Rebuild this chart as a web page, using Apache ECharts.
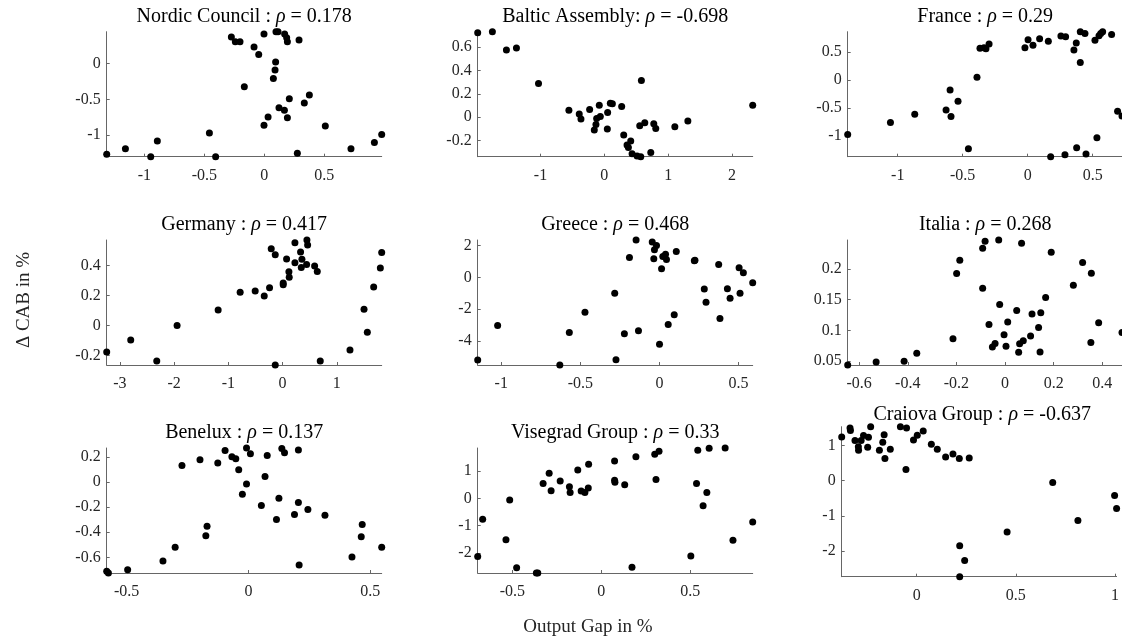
<!DOCTYPE html>
<html><head><meta charset="utf-8">
<script src="https://cdn.jsdelivr.net/npm/echarts@6/dist/echarts.min.js"></script>
<style>html,body{margin:0;padding:0;background:#fff}#c{width:1122px;height:639px}</style>
</head><body><div id="c"></div>
<script>
// ---------- data: [output gap %, delta CAB %] ----------
const nordic = [[-1.314,-1.271],[-1.158,-1.192],[-0.947,-1.304],[-0.892,-1.084],[-0.458,-0.972],[-0.406,-1.304],[-0.275,0.374],[-0.242,0.308],[-0.203,0.308],[-0.167,-0.322],[-0.086,0.234],[-0.047,0.131],[-0.003,0.416],[-0.003,-0.864],[0.031,-0.748],[0.075,-0.206],[0.089,-0.089],[0.094,0.023],[0.097,0.449],[0.114,0.449],[0.122,-0.617],[0.167,-0.654],[0.169,0.416],[0.186,0.364],[0.192,0.308],[0.192,-0.757],[0.208,-0.491],[0.289,0.332],[0.333,-0.551],[0.375,-0.439],[0.508,-0.874],[0.722,-1.192],[0.275,-1.257],[0.917,-1.106],[0.978,-0.994]];
const baltic = [[-1.984,0.726],[-1.754,0.734],[-1.534,0.577],[-1.377,0.594],[-1.031,0.289],[-0.555,0.060],[-0.393,0.026],[-0.366,-0.017],[-0.230,0.066],[-0.157,-0.111],[-0.131,-0.063],[-0.120,-0.011],[-0.079,0.103],[-0.063,0.006],[0.047,-0.103],[0.052,0.040],[0.094,0.120],[0.126,0.114],[0.272,0.091],[0.304,-0.154],[0.356,-0.240],[0.377,-0.260],[0.414,-0.206],[0.435,-0.314],[0.513,-0.334],[0.555,-0.074],[0.571,-0.340],[0.581,0.314],[0.634,-0.049],[0.728,-0.303],[0.775,-0.057],[0.806,-0.097],[1.105,-0.083],[1.309,-0.034],[2.325,0.103]];
const france = [[-1.385,-0.98],[-1.056,-0.765],[-0.869,-0.617],[-0.628,-0.539],[-0.597,-0.184],[-0.590,-0.658],[-0.536,-0.385],[-0.456,-1.233],[-0.390,0.047],[-0.367,0.563],[-0.336,0.575],[-0.321,0.557],[-0.297,0.640],[-0.021,0.575],[0.003,0.717],[0.041,0.616],[0.092,0.735],[0.159,0.688],[0.177,-1.375],[0.256,0.782],[0.292,0.771],[0.287,-1.340],[0.356,0.533],[0.374,0.658],[0.377,-1.215],[0.405,0.860],[0.405,0.308],[0.441,0.830],[0.449,-1.328],[0.518,0.705],[0.533,-1.037],[0.549,0.788],[0.562,0.830],[0.577,0.860],[0.646,0.812],[0.692,-0.563],[0.726,-0.646]];
const germany = [[-3.243,-0.177],[-2.800,-0.097],[-2.320,-0.236],[-1.945,0.000],[-1.188,0.104],[-0.782,0.221],[-0.505,0.230],[-0.338,0.196],[-0.240,0.252],[-0.209,0.512],[-0.135,0.472],[-0.135,-0.263],[0.012,0.283],[0.012,0.272],[0.074,0.444],[0.117,0.358],[0.123,0.322],[0.228,0.552],[0.228,0.419],[0.332,0.490],[0.345,0.386],[0.357,0.442],[0.449,0.570],[0.462,0.536],[0.443,0.406],[0.591,0.397],[0.640,0.360],[0.695,-0.236],[1.243,-0.163],[1.502,0.108],[1.563,-0.044],[1.680,0.256],[1.803,0.384],[1.828,0.486]];
const greece = [[-1.149,-5.19],[-1.023,-3.02],[-0.630,-5.50],[-0.570,-3.46],[-0.471,-2.19],[-0.283,-1.00],[-0.275,-5.17],[-0.222,-3.54],[-0.190,1.25],[-0.148,2.35],[-0.133,-3.35],[-0.046,2.23],[-0.032,1.73],[-0.036,1.17],[-0.019,2.00],[0.000,-4.19],[0.013,0.54],[0.021,1.31],[0.038,1.46],[0.044,1.13],[0.055,-2.96],[0.093,-2.35],[0.106,1.63],[0.220,1.04],[0.224,1.08],[0.283,-0.73],[0.294,-1.56],[0.374,0.81],[0.382,-2.58],[0.429,-0.71],[0.446,-1.31],[0.503,0.60],[0.509,-1.00],[0.530,0.29],[0.589,-0.33]];
const italia = [[-0.647,0.0435],[-0.530,0.0484],[-0.415,0.0495],[-0.363,0.0625],[-0.214,0.0863],[-0.199,0.1924],[-0.186,0.2141],[-0.092,0.2336],[-0.082,0.2449],[-0.092,0.1686],[-0.066,0.1096],[-0.052,0.0728],[-0.041,0.0787],[-0.026,0.2471],[-0.022,0.1421],[-0.004,0.0928],[0.004,0.0739],[0.011,0.1134],[0.048,0.1323],[0.056,0.0641],[0.060,0.0782],[0.068,0.2417],[0.075,0.0831],[0.105,0.0906],[0.111,0.1264],[0.138,0.1047],[0.144,0.0646],[0.147,0.1285],[0.167,0.1534],[0.190,0.2271],[0.281,0.1735],[0.319,0.2103],[0.355,0.1930],[0.353,0.0803],[0.385,0.1123],[0.481,0.0966]];
const benelux = [[-0.582,-0.712],[-0.575,-0.725],[-0.496,-0.699],[-0.351,-0.629],[-0.301,-0.520],[-0.273,0.133],[-0.199,0.179],[-0.175,-0.427],[-0.170,-0.352],[-0.126,0.152],[-0.096,0.253],[-0.068,0.203],[-0.052,0.187],[-0.040,0.099],[-0.025,-0.096],[-0.008,0.272],[-0.008,-0.016],[0.008,0.227],[0.053,-0.187],[0.068,0.045],[0.077,0.213],[0.115,-0.299],[0.125,-0.128],[0.137,0.269],[0.148,0.235],[0.189,-0.259],[0.205,0.256],[0.205,-0.163],[0.208,-0.661],[0.244,-0.219],[0.314,-0.264],[0.425,-0.597],[0.463,-0.435],[0.467,-0.339],[0.547,-0.520]];
const visegrad = [[-0.695,-2.13],[-0.667,-0.77],[-0.536,-1.52],[-0.515,-0.06],[-0.476,-2.55],[-0.365,-2.74],[-0.357,-2.74],[-0.327,0.55],[-0.293,0.92],[-0.282,0.28],[-0.231,0.64],[-0.179,0.43],[-0.175,0.22],[-0.132,1.04],[-0.113,0.27],[-0.092,0.22],[-0.073,0.38],[-0.071,1.25],[0.075,1.37],[0.075,0.67],[0.077,0.59],[0.132,0.50],[0.173,-2.53],[0.195,1.53],[0.301,1.62],[0.308,0.69],[0.325,1.73],[0.504,-2.12],[0.536,0.55],[0.543,1.77],[0.573,-0.27],[0.594,0.22],[0.607,1.84],[0.697,1.85],[0.741,-1.54],[0.852,-0.87]];
const craiova = [[-0.378,1.24],[-0.336,1.49],[-0.334,1.42],[-0.311,1.14],[-0.294,0.96],[-0.293,0.86],[-0.280,1.14],[-0.268,1.28],[-0.247,0.95],[-0.243,1.23],[-0.232,1.53],[-0.188,0.86],[-0.171,1.09],[-0.164,1.30],[-0.160,0.63],[-0.133,0.89],[-0.082,1.53],[-0.054,0.32],[-0.051,1.49],[-0.016,1.15],[0.003,1.29],[0.033,1.41],[0.074,1.03],[0.104,0.89],[0.146,0.67],[0.183,0.76],[0.215,0.63],[0.217,-1.84],[0.217,-2.72],[0.242,-2.26],[0.265,0.64],[0.456,-1.45],[0.686,-0.05],[0.813,-1.13],[0.998,-0.42],[1.008,-0.79]];

const panelData = [nordic, baltic, france, germany, greece, italia, benelux, visegrad, craiova];
const panelNames = ['Nordic Council :', 'Baltic Assembly:', 'France :', 'Germany :', 'Greece :', 'Italia :', 'Benelux :', 'Visegrad Group :', 'Craiova Group :'];
const rhoValues = ['0.178', '-0.698', '0.29', '0.417', '0.468', '0.268', '0.137', '0.33', '-0.637'];

// tick labels
const xTicks = [
  [-1, -0.5, 0, 0.5],
  [-1, 0, 1, 2],
  [-1, -0.5, 0, 0.5],
  [-3, -2, -1, 0, 1],
  [-1, -0.5, 0, 0.5],
  [-0.6, -0.4, -0.2, 0, 0.2, 0.4],
  [-0.5, 0, 0.5],
  [-0.5, 0, 0.5],
  [0, 0.5, 1]
];
const yTicks = [
  [-1, -0.5, 0],
  [-0.2, 0, 0.2, 0.4, 0.6],
  [-1, -0.5, 0, 0.5],
  [-0.2, 0, 0.2, 0.4],
  [-4, -2, 0, 2],
  [0.05, 0.1, 0.15, 0.2],
  [-0.6, -0.4, -0.2, 0, 0.2],
  [-2, -1, 0, 1],
  [-2, -1, 0, 1]
];
const xAxisTitle = 'Output Gap in %';
const yAxisTitle = 'Δ CAB in %';

// ---------- layout ----------
const FONT = '"Liberation Serif", "Times New Roman", serif';
const TXT = '#262626';
const AX = '#666666';
const colLeft = [106.7, 477.7, 847.7];
const rowTop = [31.7, 240, 448];
const W = 275, H = 125;

const grids = [], xAxes = [], yAxes = [], series = [], titles = [];
panelData.forEach((d, i) => {
  const r = Math.floor(i / 3), c = i % 3;
  let g = { left: colLeft[c], top: rowTop[r], width: W, height: H };
  let titleTop = rowTop[r] - 25;
  if (i === 8) { g = { left: 841.7, top: 426.7, width: 281, height: 150 }; titleTop = 405; }
  grids.push(g);
  const xs = d.map(p => p[0]), ys = d.map(p => p[1]);
  const axBase = {
    type: 'value', gridIndex: i, scale: true,
    axisLine: { show: true, onZero: false, lineStyle: { color: AX, width: 1 } },
    axisTick: { show: true, inside: true, length: 3, lineStyle: { color: AX } },
    splitLine: { show: false },
    axisLabel: { color: TXT, fontFamily: FONT, fontSize: 16, showMinLabel: true, showMaxLabel: true }
  };
  xAxes.push(Object.assign({}, axBase, {
    min: Math.min(...xs), max: Math.max(...xs),
    axisTick: Object.assign({}, axBase.axisTick, { customValues: xTicks[i] }),
    axisLabel: Object.assign({}, axBase.axisLabel, { customValues: xTicks[i], margin: 11 })
  }));
  yAxes.push(Object.assign({}, axBase, {
    min: Math.min(...ys), max: Math.max(...ys),
    axisTick: Object.assign({}, axBase.axisTick, { customValues: yTicks[i] }),
    axisLabel: Object.assign({}, axBase.axisLabel, { customValues: yTicks[i], margin: 6 })
  }));
  series.push({
    type: 'scatter', xAxisIndex: i, yAxisIndex: i, data: d,
    symbol: 'circle', symbolSize: 7, itemStyle: { color: '#000', opacity: 1 }, silent: true
  });
  titles.push({
    text: '{a|' + panelNames[i] + ' }{i|ρ}{a| = ' + rhoValues[i] + '}',
    left: g.left + g.width / 2, top: titleTop, textAlign: 'center', padding: 0,
    textStyle: {
      fontWeight: 'normal',
      rich: {
        a: { fontFamily: FONT, fontSize: 20, fontWeight: 'normal', color: '#000' },
        i: { fontFamily: FONT, fontSize: 20, fontWeight: 'normal', fontStyle: 'italic', color: '#000' }
      }
    }
  });
});

const chart = echarts.init(document.getElementById('c'), null, { renderer: 'canvas' });
chart.setOption({
  animation: false,
  backgroundColor: '#fff',
  title: titles,
  grid: grids,
  xAxis: xAxes,
  yAxis: yAxes,
  series: series,
  graphic: [
    { type: 'text', x: 588, y: 627, style: { text: xAxisTitle, align: 'center', verticalAlign: 'middle', font: '19px ' + FONT, fill: TXT } },
    { type: 'text', x: 24, y: 300, rotation: Math.PI / 2, style: { text: yAxisTitle, align: 'center', verticalAlign: 'middle', font: '19px ' + FONT, fill: TXT } }
  ]
});
</script>
</body></html>
